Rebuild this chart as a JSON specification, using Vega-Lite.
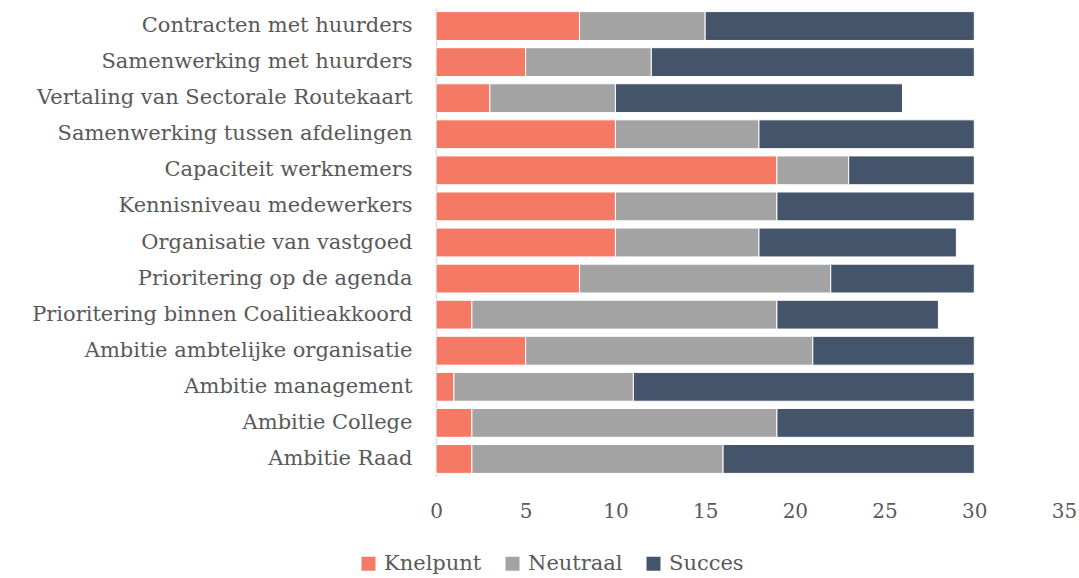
{
  "$schema": "https://vega.github.io/schema/vega-lite/v6.json",
  "width": 628,
  "height": 469,
  "autosize": {"type": "none"},
  "padding": {"left": 436, "top": 8, "right": 15, "bottom": 101},
  "background": "white",
  "data": {"values": [
    {"cat": "Contracten met huurders", "type": "Knelpunt", "v": 8},
    {"cat": "Contracten met huurders", "type": "Neutraal", "v": 7},
    {"cat": "Contracten met huurders", "type": "Succes", "v": 15},
    {"cat": "Samenwerking met huurders", "type": "Knelpunt", "v": 5},
    {"cat": "Samenwerking met huurders", "type": "Neutraal", "v": 7},
    {"cat": "Samenwerking met huurders", "type": "Succes", "v": 18},
    {"cat": "Vertaling van Sectorale Routekaart", "type": "Knelpunt", "v": 3},
    {"cat": "Vertaling van Sectorale Routekaart", "type": "Neutraal", "v": 7},
    {"cat": "Vertaling van Sectorale Routekaart", "type": "Succes", "v": 16},
    {"cat": "Samenwerking tussen afdelingen", "type": "Knelpunt", "v": 10},
    {"cat": "Samenwerking tussen afdelingen", "type": "Neutraal", "v": 8},
    {"cat": "Samenwerking tussen afdelingen", "type": "Succes", "v": 12},
    {"cat": "Capaciteit werknemers", "type": "Knelpunt", "v": 19},
    {"cat": "Capaciteit werknemers", "type": "Neutraal", "v": 4},
    {"cat": "Capaciteit werknemers", "type": "Succes", "v": 7},
    {"cat": "Kennisniveau medewerkers", "type": "Knelpunt", "v": 10},
    {"cat": "Kennisniveau medewerkers", "type": "Neutraal", "v": 9},
    {"cat": "Kennisniveau medewerkers", "type": "Succes", "v": 11},
    {"cat": "Organisatie van vastgoed", "type": "Knelpunt", "v": 10},
    {"cat": "Organisatie van vastgoed", "type": "Neutraal", "v": 8},
    {"cat": "Organisatie van vastgoed", "type": "Succes", "v": 11},
    {"cat": "Prioritering op de agenda", "type": "Knelpunt", "v": 8},
    {"cat": "Prioritering op de agenda", "type": "Neutraal", "v": 14},
    {"cat": "Prioritering op de agenda", "type": "Succes", "v": 8},
    {"cat": "Prioritering binnen Coalitieakkoord", "type": "Knelpunt", "v": 2},
    {"cat": "Prioritering binnen Coalitieakkoord", "type": "Neutraal", "v": 17},
    {"cat": "Prioritering binnen Coalitieakkoord", "type": "Succes", "v": 9},
    {"cat": "Ambitie ambtelijke organisatie", "type": "Knelpunt", "v": 5},
    {"cat": "Ambitie ambtelijke organisatie", "type": "Neutraal", "v": 16},
    {"cat": "Ambitie ambtelijke organisatie", "type": "Succes", "v": 9},
    {"cat": "Ambitie management", "type": "Knelpunt", "v": 1},
    {"cat": "Ambitie management", "type": "Neutraal", "v": 10},
    {"cat": "Ambitie management", "type": "Succes", "v": 19},
    {"cat": "Ambitie College", "type": "Knelpunt", "v": 2},
    {"cat": "Ambitie College", "type": "Neutraal", "v": 17},
    {"cat": "Ambitie College", "type": "Succes", "v": 11},
    {"cat": "Ambitie Raad", "type": "Knelpunt", "v": 2},
    {"cat": "Ambitie Raad", "type": "Neutraal", "v": 14},
    {"cat": "Ambitie Raad", "type": "Succes", "v": 14}
  ]},
  "mark": {"type": "bar", "stroke": "white", "strokeWidth": 1},
  "encoding": {
    "y": {
      "field": "cat", "type": "nominal", "sort": null, "title": null,
      "scale": {"paddingInner": 0.2, "paddingOuter": 0.1},
      "axis": {
        "domain": true, "domainColor": "#d9d9d9", "domainWidth": 1.5,
        "ticks": false, "labelPadding": 24, "labelFontSize": 21,
        "labelFont": "DejaVu Serif", "labelColor": "#595959", "labelLimit": 500
      }
    },
    "x": {
      "field": "v", "type": "quantitative", "stack": "zero", "title": null,
      "scale": {"domain": [0, 35], "nice": false},
      "axis": {
        "values": [0, 5, 10, 15, 20, 25, 30, 35], "grid": false, "domain": false,
        "ticks": false, "labelPadding": 24, "labelFontSize": 20,
        "labelFont": "DejaVu Serif", "labelColor": "#595959", "labelFlush": false, "labelOverlap": false
      }
    },
    "color": {
      "field": "type", "type": "nominal", "title": null,
      "scale": {"domain": ["Knelpunt", "Neutraal", "Succes"], "range": ["#F47A66", "#A3A3A3", "#44546A"]},
      "legend": {
        "orient": "none", "legendX": -78, "legendY": 545, "direction": "horizontal",
        "symbolType": "square", "symbolSize": 196, "symbolStrokeWidth": 0,
        "labelFontSize": 21, "labelFont": "DejaVu Serif", "labelColor": "#595959",
        "columnPadding": 20, "labelOffset": 5
      }
    },
    "order": {"field": "type", "type": "nominal"}
  },
  "config": {"view": {"stroke": null}}
}
